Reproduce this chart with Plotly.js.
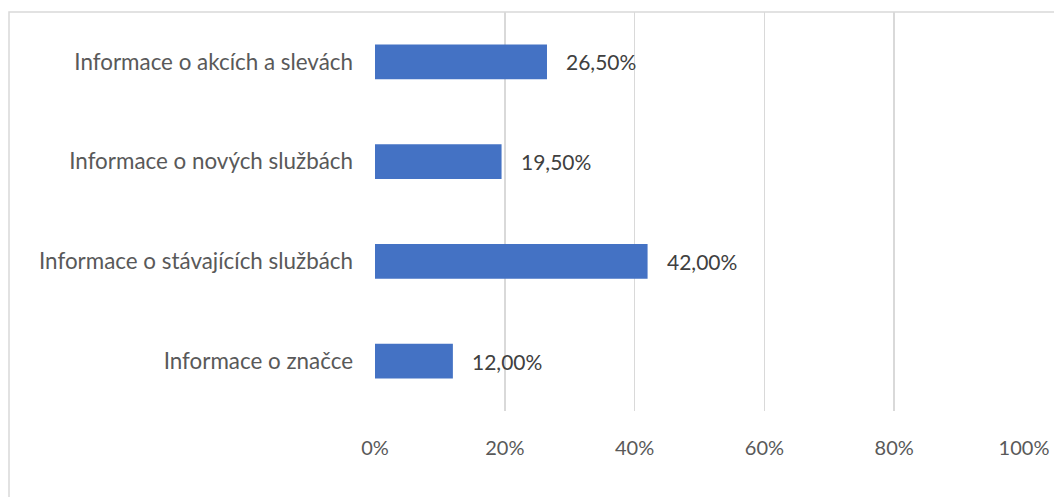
<!DOCTYPE html>
<html><head><meta charset="utf-8">
<script src="https://cdn.plot.ly/plotly-3.0.1.min.js"></script>
<style>html,body{margin:0;padding:0;background:#fff}#c{width:1054px;height:497px}</style>
</head><body><div id="c"></div>
<script>
const categories = ["Informace o akcích a slevách","Informace o nových službách","Informace o stávajících službách","Informace o značce"];
const values = [26.5, 19.5, 42.0, 12.0];
const tickVals = [0, 20, 40, 60, 80, 100];
const tickText = ["0%", "20%", "40%", "60%", "80%", "100%"];
const labels = values.map(v => v.toFixed(2).replace('.', ',') + '%');

const font = "Lato, Open Sans, sans-serif";
const trace = {
  type: 'bar', orientation: 'h', x: values, y: categories,
  marker: {color: '#4472C4'}, hoverinfo: 'none'
};
const annotations = values.map((v, i) => ({
  x: v, y: categories[i], xref: 'x', yref: 'y', text: labels[i],
  showarrow: false, xanchor: 'left', xshift: 17,
  font: {family: font, size: 21, color: '#404040'}
}));
const layout = {
  width: 1054, height: 497,
  margin: {l: 375, r: 30, t: 12, b: 86},
  paper_bgcolor: '#fff', plot_bgcolor: '#fff',
  bargap: 0.65, showlegend: false,
  xaxis: {range: [0, 100], tickvals: tickVals, ticktext: tickText,
    showgrid: true, gridcolor: '#D9D9D9', gridwidth: 1.5, zeroline: false,
    showline: false, ticks: '', ticklabelstandoff: 23,
    tickfont: {family: font, size: 20, color: '#595959'}, fixedrange: true},
  yaxis: {autorange: 'reversed', showgrid: false, zeroline: false, showline: false,
    ticks: '', ticklabelstandoff: 21,
    tickfont: {family: font, size: 22.4, color: '#595959'}, fixedrange: true},
  annotations: annotations,
  shapes: [{type: 'rect', xref: 'paper', yref: 'paper',
    x0: (9 - 375) / 649, x1: 1.2, y0: -0.4, y1: 1.0,
    line: {color: '#D9D9D9', width: 1.5}, layer: 'below'}]
};
Plotly.newPlot('c', [trace], layout, {displayModeBar: false, staticPlot: true});
</script></body></html>
